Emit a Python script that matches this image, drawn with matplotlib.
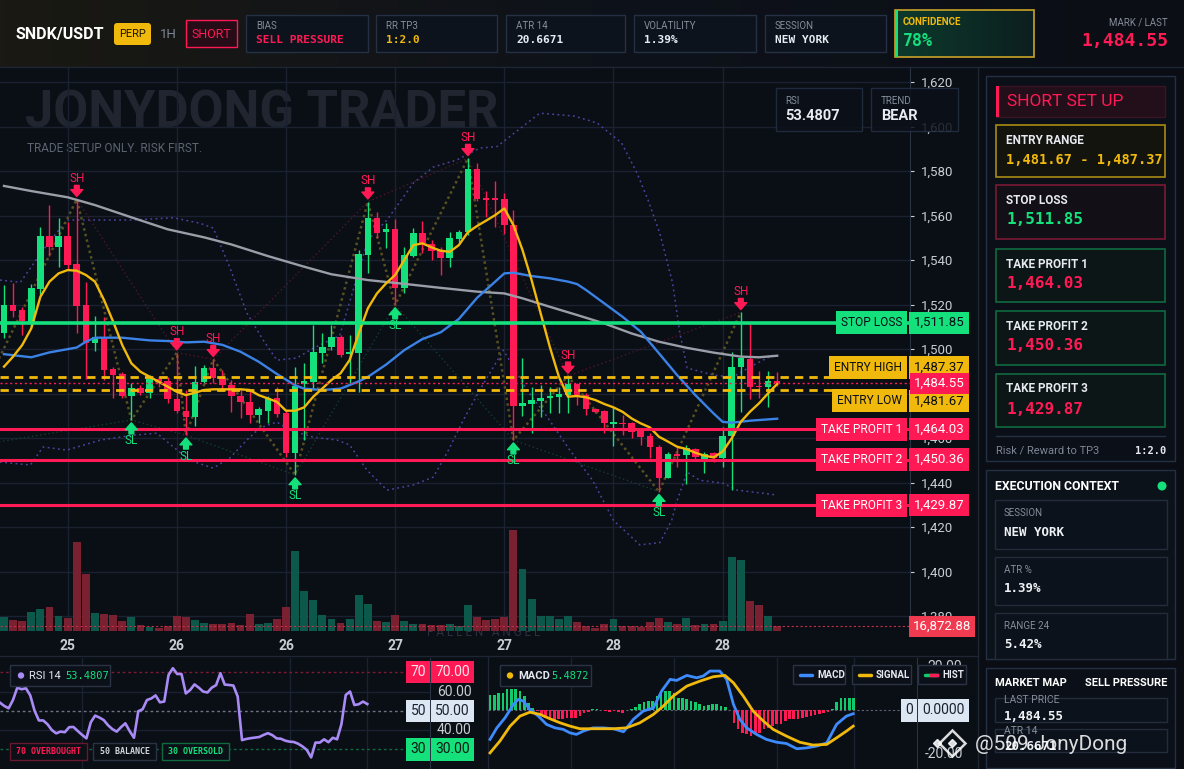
import numpy as np
import matplotlib.pyplot as plt
from matplotlib import transforms
from matplotlib.patches import Rectangle, Circle, FancyBboxPatch
from matplotlib.colors import LinearSegmentedColormap

# ---- Datos (velas 1H) ----
opens = [1507.3, 1519.8, 1517.5, 1512.3, 1527.1, 1550.8, 1546.0, 1550.8, 1538.2, 1519.8,
         1502.9, 1505.3, 1491.0, 1488.8, 1479.0, 1482.3, 1480.4, 1486.4, 1485.8, 1477.4,
         1472.3, 1469.6, 1485.0, 1491.3, 1486.8, 1483.8, 1479.0, 1476.3, 1470.3, 1472.1,
         1477.8, 1471.1, 1453.1, 1484.1, 1485.3, 1498.4, 1500.7, 1505.3, 1497.7, 1498.4,
         1542.2, 1558.7, 1552.4, 1553.9, 1527.3, 1541.8, 1552.0, 1547.0, 1544.5, 1540.8,
         1549.3, 1552.7, 1580.9, 1567.6, 1567.6, 1567.4, 1555.7, 1474.4, 1475.3, 1476.8,
         1477.8, 1478.6, 1479.3, 1484.1, 1479.3, 1472.9, 1472.1, 1466.3, 1466.9, 1466.6,
         1463.6, 1461.0, 1455.8, 1442.2, 1452.8, 1452.4, 1454.9, 1449.4, 1453.1, 1450.9,
         1460.9, 1491.8, 1495.4, 1483.4, 1482.8, 1485.8]
highs = [1528.8, 1529.8, 1519.0, 1529.1, 1554.7, 1564.7, 1559.0, 1557.2, 1567.3, 1530.3,
         1515.0, 1514.5, 1492.0, 1489.8, 1484.6, 1483.8, 1488.3, 1488.0, 1487.6, 1498.4,
         1481.6, 1492.4, 1492.8, 1495.4, 1490.6, 1486.1, 1481.6, 1481.6, 1474.1, 1478.9,
         1483.1, 1472.6, 1491.8, 1493.6, 1510.8, 1507.3, 1510.8, 1506.3, 1506.3, 1544.5,
         1566.2, 1561.7, 1556.5, 1558.3, 1546.0, 1554.2, 1557.7, 1549.0, 1546.0, 1552.7,
         1553.5, 1585.7, 1583.4, 1571.2, 1575.5, 1570.3, 1562.5, 1495.8, 1482.8, 1483.8,
         1483.1, 1483.1, 1487.9, 1484.6, 1480.1, 1473.3, 1472.6, 1474.1, 1470.3, 1467.4,
         1464.3, 1462.1, 1456.9, 1453.9, 1456.1, 1456.9, 1455.7, 1453.9, 1453.9, 1465.1,
         1498.8, 1516.5, 1512.3, 1490.3, 1490.3, 1489.8]
lows = [1504.8, 1514.5, 1506.3, 1510.0, 1524.3, 1541.8, 1536.7, 1535.5, 1507.0, 1486.4,
        1499.3, 1486.1, 1477.8, 1477.8, 1468.1, 1479.3, 1477.8, 1483.0, 1475.6, 1471.1,
        1461.3, 1465.4, 1484.6, 1484.6, 1481.6, 1471.8, 1468.8, 1466.6, 1466.6, 1466.6,
        1469.6, 1451.6, 1443.4, 1459.1, 1481.6, 1493.6, 1499.6, 1496.6, 1484.6, 1480.8,
        1534.0, 1549.7, 1545.2, 1519.8, 1525.0, 1541.5, 1543.0, 1540.0, 1533.3, 1537.0,
        1548.2, 1551.2, 1566.7, 1559.5, 1555.0, 1551.7, 1459.1, 1469.9, 1462.1, 1469.6,
        1471.1, 1471.1, 1471.1, 1474.8, 1470.3, 1471.1, 1462.1, 1456.4, 1461.3, 1459.9,
        1456.9, 1450.9, 1435.9, 1441.9, 1447.1, 1439.2, 1450.1, 1444.1, 1449.4, 1447.1,
        1436.6, 1471.8, 1477.4, 1477.8, 1473.8, 1483.5]
closes = [1519.8, 1517.1, 1512.7, 1527.3, 1550.8, 1546.0, 1550.8, 1537.8, 1519.5, 1502.9,
          1505.3, 1490.6, 1488.3, 1479.0, 1482.3, 1480.4, 1486.4, 1485.3, 1477.4, 1472.3,
          1469.6, 1485.0, 1491.3, 1486.8, 1483.8, 1479.0, 1476.3, 1470.3, 1472.9, 1477.8,
          1470.8, 1453.1, 1483.5, 1485.6, 1498.8, 1501.1, 1505.3, 1497.3, 1498.8, 1542.7,
          1558.7, 1552.3, 1553.9, 1527.3, 1542.2, 1552.0, 1547.5, 1544.2, 1540.8, 1549.7,
          1552.7, 1580.9, 1567.4, 1567.2, 1567.2, 1555.7, 1474.4, 1475.6, 1477.1, 1477.8,
          1478.9, 1479.8, 1484.1, 1479.3, 1472.9, 1471.5, 1466.6, 1467.0, 1466.3, 1462.8,
          1460.6, 1455.8, 1442.2, 1452.8, 1451.9, 1455.4, 1451.6, 1452.8, 1450.9, 1460.9,
          1491.8, 1495.8, 1482.8, 1482.8, 1485.8, 1484.55]
volumes = [50610, 39770, 36150, 68690, 78330, 86770, 54230, 48210, 321770, 207290,
           65080, 61460, 57850, 36150, 50610, 21690, 14460, 10850, 18080, 54230,
           50610, 39770, 28920, 25310, 25310, 28920, 21690, 61460, 25310, 28920,
           43390, 86770, 289250, 144620, 112080, 57850, 43390, 28920, 43390, 130160,
           97620, 36150, 32540, 57850, 36150, 25310, 25310, 21690, 21690, 25310,
           18080, 94000, 50610, 39770, 43390, 50610, 365170, 222960, 115700, 54230,
           54230, 43390, 54230, 32540, 18080, 10850, 25310, 43390, 18080, 18080,
           14460, 32540, 47000, 32540, 25310, 47000, 21690, 25310, 25310, 36150,
           267550, 256700, 108470, 94000, 54230, 16872.88]

date_pos = [7, 19, 31, 43, 55, 67, 79]
date_labels = ['25', '26', '26', '27', '27', '28', '28']

# medias
ema_fast = [1492.1, 1496.6, 1501.8, 1509.3, 1523.5, 1530.3, 1534.0, 1535.5, 1535.2, 1533.3,
            1530.3, 1522.0, 1512.3, 1501.8, 1493.6, 1489.8, 1487.6, 1485.3, 1483.1, 1480.8,
            1479.3, 1480.4, 1481.6, 1481.9, 1481.9, 1481.9, 1481.9, 1481.6, 1479.3, 1477.8,
            1476.3, 1472.3, 1472.3, 1473.8, 1478.6, 1482.3, 1486.1, 1489.1, 1495.1, 1507.0,
            1518.3, 1525.0, 1529.5, 1533.3, 1540.0, 1546.7, 1547.5, 1545.7, 1544.2, 1543.7,
            1546.7, 1552.5, 1555.3, 1557.7, 1560.2, 1563.2, 1555.7, 1544.5, 1531.0, 1516.0,
            1501.0, 1487.6, 1478.6, 1478.9, 1478.3, 1477.1, 1475.3, 1473.8, 1471.8, 1468.8,
            1466.6, 1464.8, 1460.6, 1458.4, 1456.1, 1455.1, 1453.4, 1452.1, 1451.3, 1453.9,
            1459.9, 1467.3, 1471.8, 1475.6, 1480.1, 1484.3]
ema_mid_x = [0, 3, 5, 8, 9, 10, 13, 16, 18, 20, 22, 24, 26, 28, 30, 32, 33, 35, 37, 39, 40, 42,
             44, 46, 48, 50, 52, 54, 55, 56, 58, 60, 62, 63, 64, 66, 68, 70, 72, 74, 76, 78, 79,
             80, 82, 85]
ema_mid = [1497.7, 1496.3, 1498.5, 1500.7, 1503.3, 1505.1, 1505.1, 1503.9, 1503.6, 1503.0,
           1503.3, 1501.9, 1498.8, 1494.3, 1488.8, 1483.7, 1482.2, 1481.6, 1482.2, 1485.5,
           1487.5, 1493.0, 1499.5, 1504.5, 1507.5, 1513.5, 1523.0, 1530.3, 1534.0, 1534.3,
           1532.8, 1531.8, 1530.3, 1529.2, 1526.5, 1520.5, 1514.5, 1507.8, 1498.1, 1488.3,
           1479.3, 1471.1, 1467.3, 1466.9, 1467.8, 1468.7]
ema_slow_x = [0, 3, 7, 10, 14, 18, 22, 25, 29, 33, 36, 40, 44, 48, 52, 55, 57, 60, 63, 66,
              69, 72, 75, 78, 81, 83, 85]
ema_slow = [1573.3, 1571.0, 1568.2, 1564.7, 1559.2, 1553.8, 1550.2, 1547.0, 1541.8, 1537.0,
            1533.6, 1531.0, 1529.3, 1527.5, 1525.8, 1525.0, 1522.8, 1519.0, 1515.3, 1511.5,
            1507.0, 1503.3, 1500.6, 1498.4, 1496.6, 1496.3, 1497.0]
bb_up_x = [-0.44, 1.8, 4.3, 6.9, 10.6, 14.2, 18.6, 21.5, 23, 24.8, 26.7, 28.5, 30, 32.2, 34,
           36.9, 39, 40, 42.1, 45, 47.2, 49.8, 52.3, 54.2, 58.9, 62.7, 65.2, 67.9, 69.6,
           70.8, 72.1, 73.5, 74.3, 75.1, 78, 80.1, 82, 84.5]
bb_up = [1531, 1530, 1544.5, 1558, 1558, 1558, 1559, 1556.6, 1554.4, 1536.9, 1516.2, 1504,
         1495, 1496, 1500.4, 1506, 1535, 1549, 1558, 1574.6, 1581.8, 1585, 1590.3, 1591,
         1606, 1604.7, 1601.6, 1592.6, 1579, 1567, 1552, 1529.7, 1507.2, 1491.5, 1488.3,
         1487.4, 1491.9, 1497.3]
bb_lo_x = [-0.44, 2.9, 4.3, 6.9, 10.6, 14.2, 16.8, 20.4, 23, 24.8, 26.7, 28.1, 30, 31.4, 34,
           36.6, 38, 39.9, 42.1, 45, 47.2, 48.7, 50.5, 52.3, 54.9, 57.5, 59.7, 62.2, 64.7, 67,
           69.9, 72.1, 73.4, 74, 75.1, 76.5, 79, 80.6, 85]
bb_lo = [1449.2, 1447.9, 1456, 1454.6, 1459.1, 1461.3, 1462.2, 1450, 1446.5, 1451, 1459.1,
         1464.5, 1467.2, 1463.6, 1460.4, 1459.1, 1456.9, 1445.6, 1436.6, 1438.9, 1442.5,
         1453.3, 1468.1, 1481.6, 1499.5, 1481.6, 1469.6, 1454.6, 1441.1, 1423, 1412, 1413,
         1423, 1432, 1444.7, 1441, 1439.8, 1436.6, 1434.4]

# pivotes
sh_idx = [8, 19, 23, 40, 51, 62, 81]
sl_idx = [14, 20, 32, 43, 56, 72]
zz_prev = (-1, 1492.0)
sl_prev = (-1, 1458.0)

# niveles del setup
level_names = ['STOP LOSS', 'ENTRY HIGH', 'ENTRY LOW', 'TAKE PROFIT 1', 'TAKE PROFIT 2', 'TAKE PROFIT 3']
level_values = [1511.85, 1487.37, 1481.67, 1464.03, 1450.36, 1429.87]
last_price = 1484.55

# RSI / MACD
rsi = [54.2, 52.5, 51.3, 55.6, 62.0, 61.2, 61.7, 58.0, 50.0, 45.0,
       45.0, 43.0, 40.0, 38.3, 39.2, 38.9, 41.5, 41.6, 39.5, 37.5,
       35.7, 44.0, 47.5, 46.5, 45.2, 42.5, 40.5, 39.2, 41.5, 43.5,
       39.5, 36.0, 49.8, 50.8, 55.6, 56.4, 58.0, 54.4, 54.8, 68.6,
       72.1, 69.1, 69.1, 59.0, 60.8, 63.7, 62.0, 60.0, 59.5, 62.0,
       63.3, 69.5, 63.6, 63.4, 63.1, 57.4, 34.8, 35.4, 35.8, 36.1,
       36.4, 37.5, 38.4, 37.4, 35.7, 35.5, 34.5, 34.0, 33.8, 32.9,
       31.5, 29.7, 25.8, 33.5, 33.5, 35.2, 33.7, 36.0, 35.2, 43.0,
       58.2, 60.0, 53.0, 53.4, 54.8, 53.48]
macd_x = [0, 1.6, 3.5, 5.5, 6.6, 7.8, 9.3, 11.3, 13.2, 15.2, 17.1, 18.7, 20.2, 21.8, 24.1,
          26.5, 28.8, 31.2, 33.5, 35.8, 38.2, 40.1, 42.1, 43.6, 46, 48.3, 49.8, 51.4, 53.7,
          55.3, 56.9, 58.4, 60, 62.3, 64.6, 67, 69.3, 71.7, 74, 76.3, 78.7, 81, 83.3, 84.9]
macd = [-13.3, -8.0, -3.4, 2.8, 5.1, 4.3, 0.5, -2.6, -6.4, -8.0, -8.7, -10.3, -11.0, -9.5,
        -8.0, -8.0, -8.4, -9.8, -4.1, -0.3, 1.2, 8.9, 14.3, 13.8, 16.1, 15.0, 15.8, 18.1,
        18.1, 14.3, 2.8, -4.1, -8.0, -11.0, -13.3, -14.6, -15.2, -17.6, -17.2, -16.4, -14.9,
        -6.4, -2.6, -1.5]
signal_x = [0, 2.3, 4.7, 7, 9.3, 11.7, 14, 16.4, 18.7, 21, 24.9, 28.8, 31.9, 35, 38.2, 40.5,
            42.8, 46, 49.1, 52.2, 54.9, 56.9, 59.2, 61.5, 63.9, 66.2, 69.3, 72.4, 75.5, 78.7,
            81, 83.3, 84.9]
signal = [-19.5, -14.1, -7.2, -2.6, -0.8, -1.8, -3.8, -5.7, -7.2, -8.4, -8.4, -8.4, -8.0,
          -5.7, -1.8, 2.0, 6.6, 11.2, 13.5, 15.5, 16.1, 12.7, 6.6, -0.3, -4.9, -8.7, -11.8,
          -14.6, -15.9, -15.6, -12.6, -9.5, -7.2]
hist = [7.0, 7.0, 8.1, 8.1, 9.7, 9.7, 9.7, 8.9, 6.6, 3.5,
        1.2, -0.3, -1.8, -3.4, -4.1, -4.9, -4.1, -3.8, -3.4, -3.4,
        -3.4, -2.6, -1.1, -0.5, 0.5, 0.5, 0.2, -0.3, -0.5, -0.3,
        -0.5, -1.1, 0.2, 0.8, 1.7, 2.8, 3.8, 4.3, 4.3, 6.6,
        8.9, 8.9, 8.9, 8.1, 5.8, 5.8, 5.1, 4.3, 3.8, 2.8,
        2.0, 2.3, 2.8, 2.8, 2.0, 1.5, 0.1, -5.7, -8.7, -10.3,
        -11.0, -11.8, -11.0, -10.3, -8.7, -8.0, -7.2, -6.4, -6.0, -4.9,
        -4.1, -4.1, -3.8, -3.4, -2.9, -2.6, -2.1, -1.5, -1.1, -0.6,
        0.8, 3.8, 5.8, 5.8, 5.8, 5.5]

# ---- Colores ----
BG = '#0a0e15'
GRID = '#1a2130'
GREEN = '#14e07c'
RED = '#ff1a55'
YELLOW = '#f0b90b'
TXT = '#c8cdd6'
GRAY = '#858d9b'
BORDER = '#243044'
MONO = ['DejaVu Sans Mono']
plt.rcParams['font.family'] = ['Roboto', 'DejaVu Sans']

W, H = 1184, 769


def rect(x0, y0, x1, y1):
    return [x0 / W, 1 - y1 / H, (x1 - x0) / W, (y1 - y0) / H]


opens = np.array(opens); highs = np.array(highs); lows = np.array(lows)
closes = np.array(closes); volumes = np.array(volumes)
idx = np.arange(len(closes))
up = closes >= opens

fig = plt.figure(figsize=(W / 100, H / 100), dpi=100, facecolor=BG)

# ---- fondo (pixeles) ----
bg = fig.add_axes([0, 0, 1, 1], zorder=-10)
bg.set_xlim(0, W); bg.set_ylim(H, 0); bg.axis('off')
hdr = LinearSegmentedColormap.from_list('hdr', ['#1a1913', '#0e121a', '#0b0e15'])
bg.imshow(np.linspace(0, 1, 256)[None, :], extent=(0, W, 67, 0), cmap=hdr, aspect='auto')
bg.plot([0, W], [67, 67], color='#1e2633', lw=1)
bg.add_patch(Rectangle((978, 67), W - 978, H - 67, fc='#0a0d14', ec='none'))
bg.plot([978, 978], [67, H], color='#1e2633', lw=1)
bg.plot([0, 978], [656, 656], color='#1e2633', lw=1)
bg.plot([488, 488], [656, H], color='#1e2633', lw=1)
bg.text(25, 114, 'JONYDONG TRADER', fontsize=36.5, fontweight='bold',
        color='#20252f', va='center')
bg.text(27, 149, 'TRADE SETUP ONLY. RISK FIRST.', fontsize=8.5, color='#5d6471', va='center')
bg.text(427, 633, 'F A L L E N   A N G E L', fontsize=8.5, color='#2a3140', va='center')

# ---- volumen (debajo de las velas) ----
ax_vol = fig.add_axes(rect(0, 68, 910, 631), zorder=0)
ax_vol.patch.set_alpha(0)
ax_vol.set_xlim(-0.44, 99.6)
ax_vol.set_ylim(0, volumes.max() * 5.57)
ax_vol.bar(idx, volumes, width=0.86, color=np.where(up, '#0c584b', '#7a2131'), zorder=2)
ax_vol.axis('off')

ax = fig.add_axes(rect(0, 68, 910, 631), zorder=1)
ax.patch.set_alpha(0)
ax.set_xlim(-0.44, 99.6)
ax.set_ylim(1373.3, 1626.3)

# grid detras del volumen
gtr = transforms.blended_transform_factory(ax_vol.transAxes, ax.transData)
for v in range(1380, 1621, 20):
    ax_vol.plot([0, 1], [v, v], transform=gtr, color=GRID, lw=1, zorder=0)
for p in date_pos:
    ax_vol.axvline(p, color=GRID, lw=1, zorder=0)

# bandas y medias
dot = (0, (1.2, 2.2))
ax.plot(bb_up_x, bb_up, color='#4f43a0', lw=1.1, ls=dot, zorder=2)
ax.plot(bb_lo_x, bb_lo, color='#4f43a0', lw=1.1, ls=dot, zorder=2)

# zigzag
piv = sorted([(i, highs[i]) for i in sh_idx] + [(i, lows[i]) for i in sl_idx])
zx = [zz_prev[0]] + [p[0] for p in piv]
zy = [zz_prev[1]] + [p[1] for p in piv]
ax.plot(zx, zy, color='#575020', lw=1.8, ls=(0, (1, 1.3)), zorder=2)
ax.plot(sh_idx, highs[sh_idx], color='#4e1829', lw=1.0, ls=(0, (1, 2)), zorder=2)
ax.plot([sl_prev[0]] + sl_idx, [sl_prev[1]] + list(lows[sl_idx]), color='#123f2f', lw=1.0,
        ls=(0, (1, 2)), zorder=2)

# velas
cols = np.where(up, GREEN, RED)
ax.vlines(idx, lows, highs, colors=cols, lw=1.0, zorder=3)
ax.bar(idx, np.maximum(np.abs(closes - opens), 0.55), bottom=np.minimum(opens, closes),
       width=0.72, color=cols, linewidth=0, zorder=4)

ax.plot(ema_slow_x, ema_slow, color='#9a9ea8', lw=1.7, zorder=5)
ax.plot(ema_mid_x, ema_mid, color='#3b82e6', lw=1.7, zorder=5)
ax.plot(idx, ema_fast, color=YELLOW, lw=1.7, zorder=5)

# niveles
lv_style = {
    'STOP LOSS': (GREEN, 2.6, '-', '#0a0e15', 0),
    'ENTRY HIGH': (YELLOW, 2.0, (0, (3, 2.2)), '#0a0e15', 7),
    'ENTRY LOW': (YELLOW, 2.0, (0, (3, 2.2)), '#0a0e15', -8),
    'TAKE PROFIT 1': (RED, 2.2, '-', 'white', 0),
    'TAKE PROFIT 2': (RED, 2.2, '-', 'white', 0),
    'TAKE PROFIT 3': (RED, 2.2, '-', 'white', 0),
}
btr = transforms.blended_transform_factory(ax.transAxes, ax.transData)
for name, val in zip(level_names, level_values):
    c, lw, ls, tc, dy = lv_style[name]
    ax.axhline(val, color=c, lw=lw, ls=ls, zorder=6)
    tr = transforms.offset_copy(btr, fig=fig, y=dy, units='points')
    ax.text(902 / 910, val, name, transform=tr, ha='right', va='center', color=tc,
            fontsize=8.6, zorder=20, clip_on=False,
            bbox=dict(boxstyle='square,pad=0.42', fc=c, ec='none'))
    ax.text(914 / 910, val, f'{val:,.2f}', transform=tr, ha='left', va='center', color=tc,
            fontsize=9.5, zorder=20, clip_on=False,
            bbox=dict(boxstyle='square,pad=0.35', fc=c, ec='none'))
ax.axhline(last_price, color=RED, lw=1.0, ls=(0, (1.5, 2)), zorder=6)
ax.text(914 / 910, last_price, f'{last_price:,.2f}', transform=btr, ha='left', va='center',
        color='white', fontsize=9.5, zorder=21, clip_on=False,
        bbox=dict(boxstyle='square,pad=0.3', fc=RED, ec='none'))

# volumen ultimo
ax_vol.axhline(volumes[-1], color='#c2304a', lw=0.8, ls=(0, (2, 2)), zorder=3)
vtr = transforms.blended_transform_factory(ax.transAxes, ax_vol.transData)
ax.text(913 / 910, volumes[-1], f'{volumes[-1]:,.2f}', transform=vtr, ha='left', va='center',
        color='white', fontsize=9.5, zorder=20, clip_on=False,
        bbox=dict(boxstyle='square,pad=0.3', fc='#f03a50', ec='none'))

# SH / SL
arr = 'simple,head_length=0.55,head_width=0.95,tail_width=0.38'
for i in sh_idx:
    tip = transforms.offset_copy(ax.transData, fig=fig, y=2, units='points')
    ax.annotate('', xy=(i, highs[i]), xycoords=tip, xytext=(0, 8), textcoords='offset points',
                arrowprops=dict(arrowstyle=arr, color=RED, shrinkA=0, shrinkB=0, mutation_scale=9),
                zorder=8)
    ax.annotate('SH', xy=(i, highs[i]), xytext=(0, 15), textcoords='offset points', ha='center',
                va='center', color=RED, fontsize=8.5, zorder=8)
for i in sl_idx:
    tip = transforms.offset_copy(ax.transData, fig=fig, y=-2, units='points')
    ax.annotate('', xy=(i, lows[i]), xycoords=tip, xytext=(0, -8), textcoords='offset points',
                arrowprops=dict(arrowstyle=arr, color=GREEN, shrinkA=0, shrinkB=0, mutation_scale=9),
                zorder=8)
    ax.annotate('SL', xy=(i, lows[i]), xytext=(0, -15), textcoords='offset points', ha='center',
                va='center', color=GREEN, fontsize=8.5, zorder=8)

# ejes
ax.yaxis.tick_right()
ax.set_yticks(range(1380, 1621, 20))
ax.set_yticklabels([f'{v:,}' for v in range(1380, 1621, 20)])
ax.tick_params(axis='y', length=3, pad=5, colors=TXT, labelsize=9.5)
ax.set_xticks(date_pos)
ax.set_xticklabels(date_labels, fontweight='bold')
ax.tick_params(axis='x', length=0, pad=6, labelcolor=TXT, labelsize=10)
for s in ['top', 'left', 'bottom']:
    ax.spines[s].set_visible(False)
ax.spines['right'].set_color('#2a3344')

# ---- RSI ----
ar = fig.add_axes(rect(0, 658, 430, 769), zorder=1)
ar.patch.set_alpha(0)
ar.set_xlim(0, 99.5)
ar.set_ylim(19.8, 77.4)
for v in [60, 40]:
    ar.axhline(v, color=GRID, lw=1)
for p in [19, 67, 85]:
    ar.axvline(p, color=GRID, lw=1)
ar.axhline(70, color='#7a1a33', lw=1, ls=(0, (2, 2)))
ar.axhline(50, color='#6c7482', lw=1, ls=(0, (2, 2)))
ar.axhline(30, color='#0f6a40', lw=1, ls=(0, (2, 2)))
ar.plot(idx, rsi, color='#a98bf5', lw=1.9)
ar.set_xticks([]); ar.set_yticks([])
for s in ['top', 'left', 'bottom']:
    ar.spines[s].set_visible(False)
ar.spines['right'].set_color('#2a3344')
rtr = transforms.blended_transform_factory(ar.transAxes, ar.transData)
for v, fc, tc in [(70, RED, '#ffe6ec'), (50, '#dde6f3', '#1a2030'), (30, GREEN, '#0a1a12')]:
    ar.text(426 / 430, v, f'{v}', transform=rtr, ha='right', va='center', color=tc, fontsize=10,
            clip_on=False, zorder=10, bbox=dict(boxstyle='square,pad=0.3', fc=fc, ec='none'))
    ar.text(435 / 430, v, f'{v:.2f}', transform=rtr, ha='left', va='center', color=tc,
            fontsize=10, clip_on=False, zorder=10,
            bbox=dict(boxstyle='square,pad=0.3', fc=fc, ec='none'))
for v in [60, 40]:
    ar.text(437 / 430, v, f'{v:.2f}', transform=rtr, ha='left', va='center', color=TXT,
            fontsize=10, clip_on=False)

# ---- MACD ----
am = fig.add_axes(rect(488, 658, 917, 769), zorder=1)
am.patch.set_alpha(0)
am.set_xlim(-0.47, 99.8)
am.set_ylim(-26.9, 24.1)
for p in [19, 43, 67, 85]:
    am.axvline(p, color=GRID, lw=1)
am.axhline(0, color='#5a6474', lw=0.8, ls=(0, (2, 2)))
hist = np.array(hist)
am.bar(idx, hist, width=0.62, color=np.where(hist >= 0, '#12c96c', RED), zorder=2)
am.plot(macd_x, macd, color='#3d8bfd', lw=2.0, zorder=3)
am.plot(signal_x, signal, color=YELLOW, lw=2.0, zorder=3)
am.set_xticks([]); am.set_yticks([])
for s in ['top', 'left', 'bottom']:
    am.spines[s].set_visible(False)
am.spines['right'].set_color('#2a3344')
mtr = transforms.blended_transform_factory(am.transAxes, am.transData)
am.text((927 - 488) / 429, 20, '20.00', transform=mtr, ha='left', va='center', color=TXT,
        fontsize=10, clip_on=False)
am.text((925 - 488) / 429, -20, '-20.00', transform=mtr, ha='left', va='center', color=TXT,
        fontsize=10, clip_on=False)
am.text(425 / 429, 0, '0', transform=mtr, ha='right', va='center', color='#1a2030', fontsize=10,
        clip_on=False, zorder=10, bbox=dict(boxstyle='square,pad=0.3', fc='#dde6f3', ec='none'))
am.text(434 / 429, 0, '0.0000', transform=mtr, ha='left', va='center', color='#1a2030',
        fontsize=10, clip_on=False, zorder=10,
        bbox=dict(boxstyle='square,pad=0.3', fc='#dde6f3', ec='none'))

# ---- capa de interfaz (pixeles) ----
ov = fig.add_axes([0, 0, 1, 1], zorder=10)
ov.set_xlim(0, W); ov.set_ylim(H, 0); ov.axis('off'); ov.patch.set_alpha(0)


def box(x0, y0, x1, y1, fc='#0e1420', ec=BORDER, lw=1, alpha=1.0):
    ov.add_patch(Rectangle((x0, y0), x1 - x0, y1 - y0, fc=fc, ec=ec, lw=lw, alpha=alpha))


def txt(x, y, s, **kw):
    kw.setdefault('va', 'center')
    ov.text(x, y, s, **kw)


# header
txt(15, 34, 'SNDK/USDT', color='white', fontsize=11.5, fontweight='bold')
ov.add_patch(FancyBboxPatch((114, 23), 37, 22, boxstyle='round,pad=0,rounding_size=3',
                            fc=YELLOW, ec='none'))
txt(132.5, 34, 'PERP', color='#1a1400', fontsize=8, ha='center')
txt(160, 34, '1H', color='#7d8594', fontsize=9.5)
box(186, 20, 237, 47, fc='#260c17', ec=RED)
txt(211.5, 34, 'SHORT', color=RED, fontsize=9, ha='center')
cards = [(246, 368, 'BIAS', 'SELL PRESSURE', RED), (376, 497, 'RR TP3', '1:2.0', YELLOW),
         (506, 625, 'ATR 14', '20.6671', '#e8ecf2'), (634, 756, 'VOLATILITY', '1.39%', '#e8ecf2'),
         (765, 886, 'SESSION', 'NEW YORK', '#e8ecf2')]
for x0, x1, lab, val, c in cards:
    box(x0, 15, x1, 52, fc='#0d131d')
    txt(x0 + 10, 26, lab, color=GRAY, fontsize=7)
    txt(x0 + 10, 40, val, color=c, fontsize=8, family=MONO, fontweight='bold')
conf = LinearSegmentedColormap.from_list('conf', ['#0c3a2c', '#0d1f1f'])
ov.imshow(np.linspace(0, 1, 64)[None, :], extent=(895, 1034, 57, 10), cmap=conf, aspect='auto')
box(895, 10, 1034, 57, fc='none', ec='#c9a227', lw=1.2)
box(895, 10, 898, 57, fc=GREEN, ec='none')
txt(903, 22, 'CONFIDENCE', color=YELLOW, fontsize=7, fontweight='bold')
txt(903, 41, '78%', color=GREEN, fontsize=12, family=MONO, fontweight='bold')
txt(1168, 22, 'MARK / LAST', color=GRAY, fontsize=7, ha='right')
txt(1168, 41, '1,484.55', color=RED, fontsize=13, ha='right', family=MONO, fontweight='bold')

# cajas RSI / TREND
box(776, 88, 862, 131, fc='#0b1019', alpha=0.85)
box(871, 88, 958, 131, fc='#0b1019', alpha=0.85)
txt(785, 101, 'RSI', color=GRAY, fontsize=7)
txt(785, 116, '53.4807', color='#e8ecf2', fontsize=10.5, fontweight='bold')
txt(881, 101, 'TREND', color=GRAY, fontsize=7)
txt(881, 116, 'BEAR', color='#e8ecf2', fontsize=10.5, fontweight='bold')

# panel SHORT SET UP
box(986, 76, 1175, 461, fc='#0b1018')
box(996, 86, 1165, 117, fc='#230f19', ec='#3a1526')
box(996, 86, 999, 117, fc=RED, ec='none')
txt(1007, 101.5, 'SHORT SET UP', color=RED, fontsize=12.5)
setup = [(125, 177, 'ENTRY RANGE', '1,481.67 - 1,487.37', YELLOW, '#a88a12', '#14140f', 9.8),
         (185, 239, 'STOP LOSS', '1,511.85', GREEN, '#7a1a33', '#120f16', 11.5),
         (249, 302, 'TAKE PROFIT 1', '1,464.03', RED, '#0f6a40', '#0c1617', 11.5),
         (311, 365, 'TAKE PROFIT 2', '1,450.36', RED, '#0f6a40', '#0c1617', 11.5),
         (374, 427, 'TAKE PROFIT 3', '1,429.87', RED, '#0f6a40', '#0c1617', 11.5)]
for y0, y1, lab, val, c, ec, fc, fs in setup:
    box(996, y0, 1165, y1, fc=fc, ec=ec, lw=1.2)
    txt(1006, y0 + 15, lab, color='#e6e9ef', fontsize=8.5, fontweight='bold')
    txt(1006, y0 + 35, val, color=c, fontsize=fs, family=MONO, fontweight='bold')
ov.plot([996, 1165], [436, 436], color=BORDER, lw=1)
txt(996, 451, 'Risk / Reward to TP3', color='#7d8594', fontsize=8)
txt(1166, 451, '1:2.0', color='#e6e9ef', fontsize=7.5, ha='right', family=MONO, fontweight='bold')

# EXECUTION CONTEXT
box(986, 470, 1175, 659, fc='#0b1219')
txt(995, 486, 'EXECUTION CONTEXT', color='white', fontsize=8.8, fontweight='bold')
ov.add_patch(Circle((1162, 486), 4.5, fc=GREEN, ec='none'))
for y0, y1, lab, val in [(500, 549, 'SESSION', 'NEW YORK'), (557, 605, 'ATR %', '1.39%'),
                         (613, 659, 'RANGE 24', '5.42%')]:
    box(995, y0, 1167, y1, fc='#0c121b', ec='#222c3c')
    txt(1004, y0 + 13, lab, color=GRAY, fontsize=7)
    txt(1004, y0 + 32, val, color='#eef1f5', fontsize=9, family=MONO, fontweight='bold')

# MARKET MAP
box(986, 668, 1175, 768, fc='#0b1018')
txt(995, 683, 'MARKET MAP', color='white', fontsize=8, fontweight='bold')
txt(1167, 683, 'SELL PRESSURE', color='white', fontsize=8, ha='right', fontweight='bold')
for y0, y1, lab, val in [(698, 722, 'LAST PRICE', '1,484.55'), (729, 752, 'ATR 14', '20.6671')]:
    box(995, y0, 1167, y1, fc='#0c121b', ec='#222c3c')
    txt(1004, y0 + 2, lab, color=GRAY, fontsize=7.5)
    txt(1004, y0 + 18, val, color='#eef1f5', fontsize=9, family=MONO, fontweight='bold')

# leyenda RSI
box(10, 665, 110, 686, fc='#0b1019', ec='#2a3344')
ov.add_patch(Circle((21, 675.5), 3.2, fc='#a98bf5', ec='none'))
txt(29, 676, 'RSI 14', color='#e6e9ef', fontsize=8)
txt(65, 676, '53.4807', color=GREEN, fontsize=7.5, family=MONO)
for x0, x1, s, ec, c in [(10, 87, '70 OVERBOUGHT', '#6a1730', RED),
                         (93, 156, '50 BALANCE', '#2a3344', '#d0d5de'),
                         (162, 229, '30 OVERSOLD', '#0f6a40', GREEN)]:
    box(x0, 743, x1, 760, fc='#0b0f16', ec=ec)
    txt((x0 + x1) / 2, 751.5, s, color=c, fontsize=6, ha='center', family=MONO, fontweight='bold')

# leyenda MACD
box(500, 665, 591, 686, fc='#0b1019', ec='#2a3344')
ov.add_patch(Circle((510, 675.5), 3.2, fc=YELLOW, ec='none'))
txt(518, 676, 'MACD', color='#e6e9ef', fontsize=8, fontweight='bold')
txt(551, 676, '5.4872', color=GREEN, fontsize=7.5, family=MONO)
for x0, x1, s, c in [(793, 845, 'MACD', '#3d8bfd'), (852, 911, 'SIGNAL', YELLOW),
                     (918, 966, 'HIST', '#12c96c')]:
    box(x0, 665, x1, 684, fc='#0b1019', ec='#2a3344')
    ov.plot([x0 + 7, x0 + 19], [675, 675], color=c, lw=2.5, solid_capstyle='round')
    txt(x0 + 24, 675, s, color='#e6e9ef', fontsize=7, fontweight='bold')
ov.plot([925 + 6, 937], [675, 675], color=RED, lw=2.5)

# marca de agua
ov.plot([952], [743], marker='D', ms=13, mfc='none', mec='white', mew=1.8, alpha=0.85)
ov.plot([952, 937], [743, 743], marker='D', ms=4, ls='none', color='white', alpha=0.85)
txt(975, 744, '@509 JonyDong', color='white', fontsize=15, alpha=0.85)

fig.savefig('out.png', dpi=100, facecolor=BG)
